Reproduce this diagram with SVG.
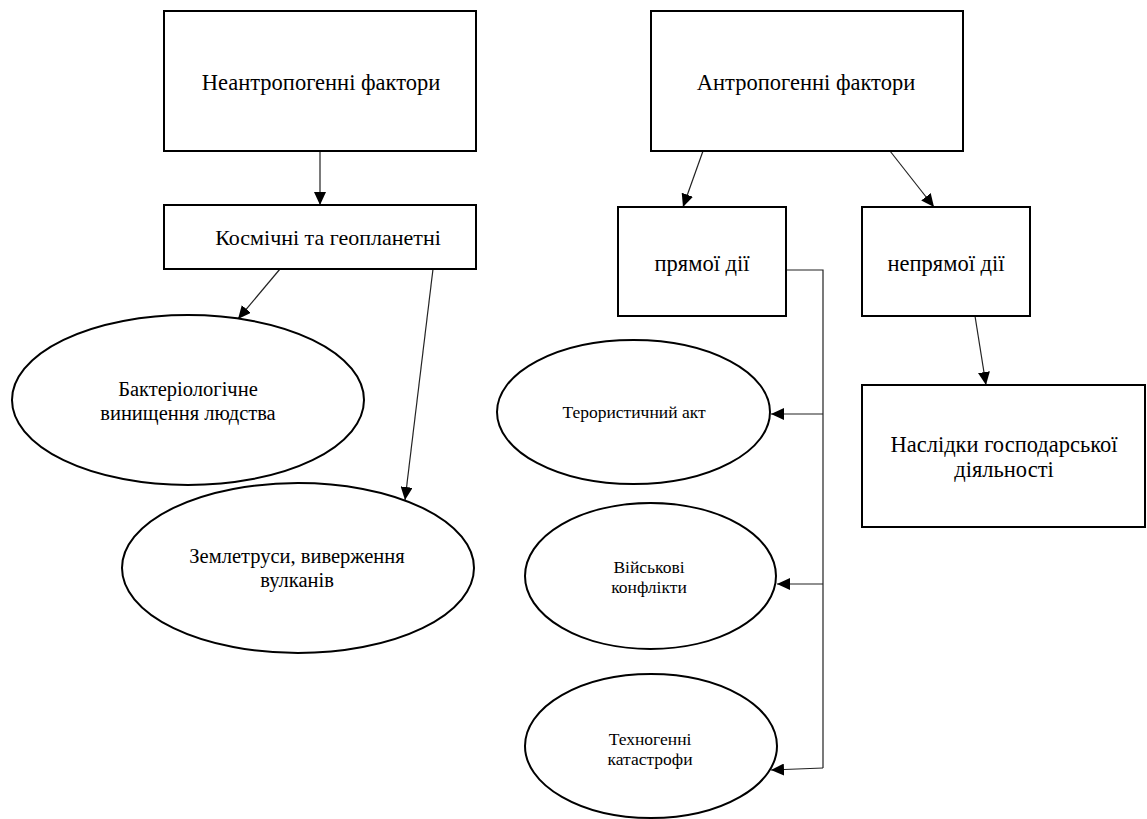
<svg xmlns="http://www.w3.org/2000/svg" width="1147" height="819" viewBox="0 0 1147 819">
<style>
.box{fill:#fff;stroke:#000;stroke-width:2}
.ell{fill:#fff;stroke:#000;stroke-width:2}
text{font-family:'Liberation Serif','Times New Roman','DejaVu Serif',serif;fill:#000;text-anchor:middle}
.big{font-size:22.5px}
.mid{font-size:20.5px}
.sm{font-size:17.5px}
.c{fill:none;stroke:#222;stroke-width:1.2}
</style>
<defs>
<marker id="ah" markerUnits="userSpaceOnUse" markerWidth="14" markerHeight="12" refX="13" refY="6" orient="auto">
<path d="M0,0 L13,6 L0,12 z" fill="#000"/>
</marker>
</defs>
<rect width="1147" height="819" fill="#fff"/>
<g id="connectors">
<line class="c" x1="320" y1="151" x2="320" y2="205" marker-end="url(#ah)"/>
<line class="c" x1="280" y1="269" x2="238" y2="319" marker-end="url(#ah)"/>
<line class="c" x1="433" y1="269" x2="405" y2="500" marker-end="url(#ah)"/>
<line class="c" x1="703" y1="151" x2="683" y2="207" marker-end="url(#ah)"/>
<line class="c" x1="890" y1="151" x2="934" y2="207" marker-end="url(#ah)"/>
<line class="c" x1="975" y1="316" x2="986" y2="385" marker-end="url(#ah)"/>
<polyline class="c" points="786,270 823,270 823,768"/>
<line class="c" x1="823" y1="414" x2="771" y2="414" marker-end="url(#ah)"/>
<line class="c" x1="823" y1="584" x2="777" y2="584" marker-end="url(#ah)"/>
<line class="c" x1="823" y1="768" x2="771" y2="770" marker-end="url(#ah)"/>
</g>
<g id="n-neantrop">
<rect class="box" x="164" y="11" width="312" height="140"/>
<text class="big" x="321" y="90">Неантропогенні фактори</text>
</g>
<g id="n-kosm">
<rect class="box" x="164" y="205" width="312" height="64"/>
<text class="big" x="328" y="245" style="font-size:22px">Космічні та геопланетні</text>
</g>
<g id="n-bakt">
<ellipse class="ell" cx="188" cy="400" rx="176" ry="85"/>
<text class="mid" x="188" y="396">Бактеріологічне</text>
<text class="mid" x="188" y="420">винищення людства</text>
</g>
<g id="n-zeml">
<ellipse class="ell" cx="298" cy="568" rx="176" ry="85"/>
<text class="mid" x="297" y="563">Землетруси, виверження</text>
<text class="mid" x="297" y="587">вулканів</text>
</g>
<g id="n-antrop">
<rect class="box" x="651" y="11" width="312" height="140"/>
<text class="big" x="806" y="90">Антропогенні фактори</text>
</g>
<g id="n-pryam">
<rect class="box" x="618" y="207" width="168" height="109"/>
<text class="big" x="702" y="271">прямої дії</text>
</g>
<g id="n-nepryam">
<rect class="box" x="862" y="207" width="168" height="109"/>
<text class="big" x="946" y="271">непрямої дії</text>
</g>
<g id="n-naslidky">
<rect class="box" x="862" y="385" width="283" height="142"/>
<text class="big" x="1004" y="452">Наслідки господарської</text>
<text class="big" x="1004" y="477">діяльності</text>
</g>
<g id="n-teror">
<ellipse class="ell" cx="633.5" cy="412" rx="136.5" ry="72"/>
<text class="sm" x="634" y="418">Терористичний акт</text>
</g>
<g id="n-viysk">
<ellipse class="ell" cx="650.5" cy="576" rx="125.5" ry="73"/>
<text class="sm" x="649" y="573">Військові</text>
<text class="sm" x="649" y="593">конфлікти</text>
</g>
<g id="n-tekhno">
<ellipse class="ell" cx="651" cy="746" rx="126" ry="72"/>
<text class="sm" x="650" y="745">Техногенні</text>
<text class="sm" x="650" y="765">катастрофи</text>
</g>
</svg>
